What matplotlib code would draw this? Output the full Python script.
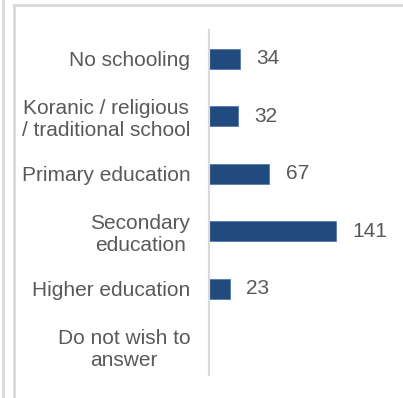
import matplotlib
matplotlib.use("Agg")
import matplotlib.pyplot as plt
from matplotlib.lines import Line2D

categories = [
    "No schooling",
    "Koranic / religious\n/ traditional school",
    "Primary education",
    "Secondary\neducation",
    "Higher education",
    "Do not wish to\nanswer",
]
counts = [34, 32, 67, 141, 23, None]

W, H = 403, 398
fig = plt.figure(figsize=(W / 100, H / 100), dpi=100)
fig.patch.set_facecolor("white")

plt.rcParams["font.family"] = ["Liberation Sans", "DejaVu Sans"]

# frame lines around the panel
frame_col = "#d9d9d9"
fig.add_artist(Line2D([2.5 / W, 2.5 / W], [0, 1], color=frame_col, lw=2.0, transform=fig.transFigure))
fig.add_artist(Line2D([14 / W, 14 / W], [0, 1 - 4.5 / H], color=frame_col, lw=2.0, transform=fig.transFigure))
fig.add_artist(Line2D([14 / W, 1], [1 - 4.5 / H, 1 - 4.5 / H], color=frame_col, lw=2.0, transform=fig.transFigure))

# axes region: x from 209 px, y from 30 px to 375 px
left, right = 209, 403
top, bottom = 30, 375
ax = fig.add_axes([left / W, 1 - bottom / H, (right - left) / W, (bottom - top) / H])

n = len(categories)
ypos = list(range(n))
vals = [v if v is not None else 0 for v in counts]
bar_color = "#214a7e"
ax.barh(ypos, vals, height=0.35, color=bar_color, edgecolor="#3a63a0", linewidth=0.4)

ax.set_ylim(n - 0.5, -0.5)
ax.set_xlim(0, 194 / 0.9)

text_col = "#595959"
fs = 15
for y, v in zip(ypos, counts):
    if v is not None:
        ax.text(v + 18.5, y, str(v), va="center", ha="left",
                fontsize=fs, color=text_col)

ax.set_yticks(ypos)
ax.set_yticklabels(categories, fontsize=fs, color=text_col, linespacing=1.2,
                   multialignment="center")
ax.tick_params(axis="y", length=0, pad=13.5)
ax.set_xticks([])

for s in ["top", "right", "bottom"]:
    ax.spines[s].set_visible(False)
ax.spines["left"].set_color("#d9d9d9")
ax.spines["left"].set_linewidth(1.6)

fig.savefig("out.png", dpi=100, facecolor="white")
